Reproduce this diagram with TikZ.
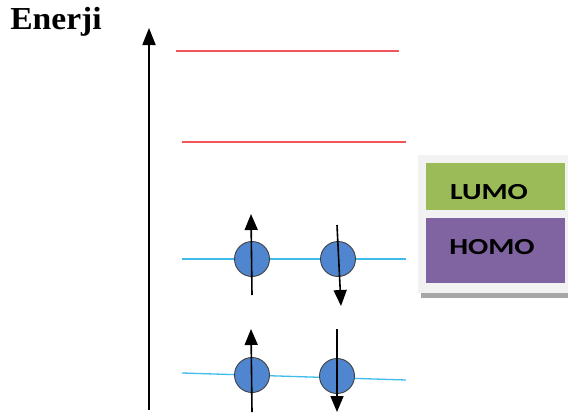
\documentclass[tikz,border=0pt]{standalone}
\usepackage{graphicx}
\usepackage{fontspec}
\setmainfont{Liberation Serif}
\newfontfamily\boxfont{Carlito}
\usetikzlibrary{arrows.meta}
\definecolor{levelred}{HTML}{F2545B}
\definecolor{levelblue}{HTML}{3EBDEB}
\definecolor{eblue}{HTML}{4F86CF}
\definecolor{lumogreen}{HTML}{9BBB59}
\definecolor{homopurple}{HTML}{8064A2}
\definecolor{panelgray}{HTML}{F2F2F2}
\definecolor{shadowgray}{HTML}{A6A6A6}
\tikzset{
  level/.style={line width=1.3pt},
  electron/.style={circle, draw=black!75, line width=0.9pt, fill=eblue, minimum size=35pt, inner sep=0pt},
  spin/.style={line width=1.6pt, -{Triangle[width=13pt,length=16pt]}},
  axisline/.style={line width=1.8pt, -{Triangle[width=13pt,length=17pt]}},
  labelbox/.style={inner sep=0pt, font=\boxfont\bfseries\fontsize{23}{23}\selectfont}
}
\begin{document}
\begin{tikzpicture}[x=1pt,y=-1pt]
\useasboundingbox (0,0) rectangle (571,413);
\fill[white] (0,0) rectangle (571,413);

% axis
\node[font=\bfseries\fontsize{32}{32}\selectfont, inner sep=0pt] (title) at (56,22) {\scalebox{1.05}[1]{Enerji}};
\coordinate (axbot) at (149,410);
\coordinate (axtop) at (149,28);
\draw[axisline] (axbot) -- (axtop);

% empty levels
\coordinate (r1a) at (176,51);  \coordinate (r1b) at (399,51);
\coordinate (r2a) at (182,142); \coordinate (r2b) at (406,142);
\draw[level, levelred] (r1a) -- (r1b);
\draw[level, levelred] (r2a) -- (r2b);

% occupied levels
\coordinate (h1a) at (182,259); \coordinate (h1b) at (406,259);
\coordinate (h2a) at (182,373); \coordinate (h2b) at (406,380);
\draw[level, levelblue] (h1a) -- (h1b);
\draw[level, levelblue] (h2a) -- (h2b);

% electrons
\node[electron] (e1) at (252,259) {};
\node[electron] (e2) at (338,259) {};
\node[electron] (e3) at (252,375) {};
\node[electron] (e4) at (337,376) {};

% spins
\coordinate (s1a) at (252,295); \coordinate (s1b) at (251,214);
\coordinate (s2a) at (337,225); \coordinate (s2b) at (341,306);
\coordinate (s3a) at (252,412); \coordinate (s3b) at (251,329);
\coordinate (s4a) at (337,329); \coordinate (s4b) at (337,412);
\draw[spin] (s1a) -- (s1b);
\draw[spin] (s2a) -- (s2b);
\draw[spin] (s3a) -- (s3b);
\draw[spin] (s4a) -- (s4b);

% legend panel
\fill[panelgray] (418,155) rectangle (568,293);
\fill[shadowgray] (421,293) rectangle (568,298);
\node[fill=lumogreen, minimum width=139pt, minimum height=47pt, inner sep=0pt] (lumo) at (495.5,186.5) {};
\node[fill=homopurple, minimum width=139pt, minimum height=65pt, inner sep=0pt] (homo) at (495.5,250.5) {};
\node[labelbox] at (489,192) {\scalebox{1.3}[1]{LUMO}};
\node[labelbox] at (492,247) {\scalebox{1.3}[1]{HOMO}};
\end{tikzpicture}
\end{document}
